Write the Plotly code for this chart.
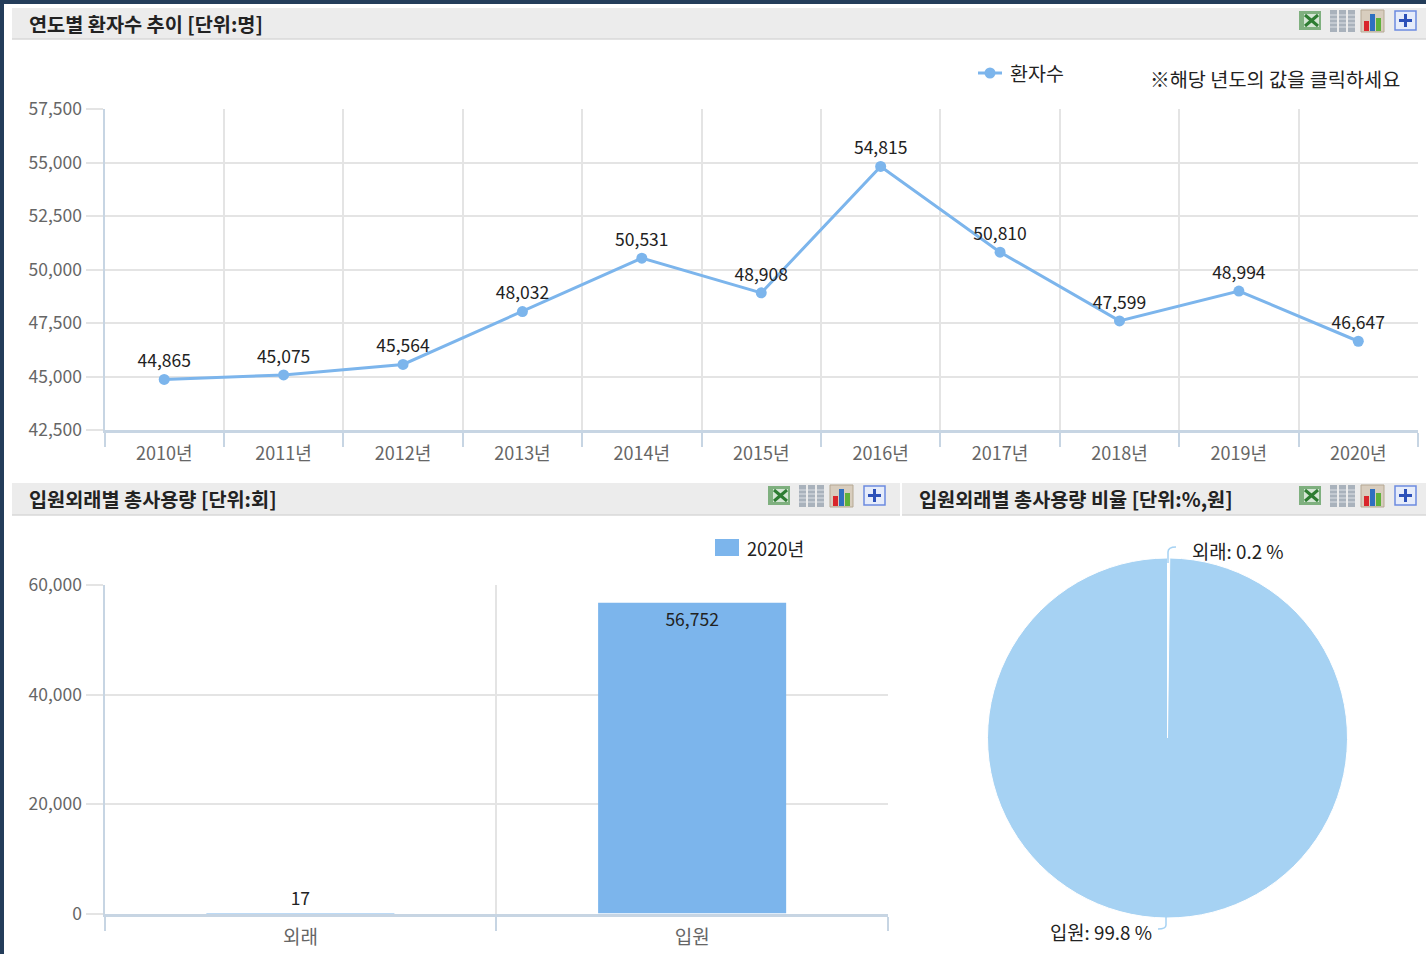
import plotly.graph_objects as go

W, H = 1426, 954
years = ["2010년", "2011년", "2012년", "2013년", "2014년", "2015년", "2016년", "2017년", "2018년", "2019년", "2020년"]
patients = [44865, 45075, 45564, 48032, 50531, 48908, 54815, 50810, 47599, 48994, 46647]
bar_cats = ["외래", "입원"]
bar_vals = [17, 56752]
pie_cats = ["외래", "입원"]
pie_vals = [0.2, 99.8]
line_name = "환자수"
bar_name = "2020년"

FONT = "Noto Sans CJK KR"
GRID = "#E4E4E4"
AXIS = "#C7D5E3"
TICKC = "#666666"
LABELC = "#222222"
BLUE = "#7CB5EC"
PIEC = "#A6D2F3"
DARK = "#243D5A"

def fx(x): return x / W
def fy(y): return 1 - y / H

fig = go.Figure()
fig.add_trace(go.Scatter(
    x=years, y=patients, mode="lines+markers+text", name=line_name,
    text=[f"{v:,}" for v in patients], textposition="top center",
    textfont=dict(size=17.5, color=LABELC, family=FONT),
    line=dict(color=BLUE, width=3), marker=dict(color=BLUE, size=11),
    xaxis="x", yaxis="y", cliponaxis=False, showlegend=False,
))
fig.add_trace(go.Bar(
    x=bar_cats, y=bar_vals, name=bar_name, width=0.48,
    marker=dict(color=BLUE, line=dict(width=0)),
    text=[f"{v:,}" for v in bar_vals], textposition=["outside", "inside"],
    insidetextanchor="end", constraintext="none",
    textfont=dict(size=17.5, color=LABELC, family=FONT),
    xaxis="x2", yaxis="y2", cliponaxis=False, showlegend=False,
))
fig.add_trace(go.Pie(
    labels=pie_cats, values=pie_vals, sort=False, direction="clockwise", rotation=0,
    marker=dict(colors=["#FFFFFF", PIEC], line=dict(color="#FFFFFF", width=1)),
    textinfo="none", showlegend=False, hole=0,
    domain=dict(x=[fx(987), fx(1348)], y=[fy(918), fy(558)]),
))

def xstyle(size, rng):
    return dict(type="category", tickson="boundaries", showgrid=True, gridcolor=GRID, gridwidth=1.5, range=rng,
                automargin=False, showline=True, linecolor=AXIS, linewidth=3, ticks="outside", ticklen=14,
                tickcolor=AXIS, tickwidth=1.5, ticklabelstandoff=5,
                tickfont=dict(size=size, color=TICKC, family=FONT), fixedrange=True)
ystyle = dict(showgrid=True, gridcolor=GRID, gridwidth=1.5, zeroline=False, showline=True, linecolor=AXIS,
              automargin=False, linewidth=2, ticks="outside", ticklen=17, tickcolor=GRID, tickwidth=1.5,
              tickformat=",d", tickfont=dict(size=17.5, color=TICKC, family=FONT), fixedrange=True)

hdr = "#ECECEC"; hdrb = "#D8D8D8"
shapes = [
    dict(type="rect", xref="paper", yref="paper", x0=0, x1=1, y0=fy(4), y1=1, fillcolor=DARK, line_width=0),
    dict(type="rect", xref="paper", yref="paper", x0=0, x1=fx(4), y0=0, y1=1, fillcolor=DARK, line_width=0),
]
for x0, x1, y0, y1 in [(12, 1426, 8, 39), (12, 900, 483, 515), (902, 1426, 483, 515)]:
    shapes.append(dict(type="rect", xref="paper", yref="paper", x0=fx(x0), x1=fx(x1), y0=fy(y1), y1=fy(y0),
                       fillcolor=hdr, line_width=0, layer="below"))
    shapes.append(dict(type="line", xref="paper", yref="paper", x0=fx(x0), x1=fx(x1), y0=fy(y1), y1=fy(y1),
                       line=dict(color=hdrb, width=1.5), layer="below"))

def rect(x0, y0, x1, y1, color, line=None):
    shapes.append(dict(type="rect", xref="paper", yref="paper", x0=fx(x0), x1=fx(x1), y0=fy(y1), y1=fy(y0),
                       fillcolor=color, line=dict(color=line, width=1) if line else dict(width=0)))

def seg(x0, y0, x1, y1, color, width):
    shapes.append(dict(type="line", xref="paper", yref="paper", x0=fx(x0), x1=fx(x1), y0=fy(y0), y1=fy(y1),
                       line=dict(color=color, width=width)))

def icons(ox, oy):
    rect(ox + 3, oy + 2, ox + 25, oy + 21, "#7FB07F")
    rect(ox + 8, oy + 5, ox + 23, oy + 18, "#D5E6D5")
    seg(ox + 9, oy + 6, ox + 22, oy + 17, "#2E7D32", 3)
    seg(ox + 22, oy + 6, ox + 9, oy + 17, "#2E7D32", 3)
    for dx in (34, 43, 52):
        rect(ox + dx, oy + 1, ox + dx + 7, oy + 23, "#A9B2BC")
        for dy in (6, 10, 14, 18):
            seg(ox + dx, oy + dy, ox + dx + 7, oy + dy, "#DDE1E6", 1)
    rect(ox + 65, oy + 1, ox + 88, oy + 23, "#D8CDBE", "#B5A893")
    rect(ox + 68, oy + 12, ox + 73, oy + 22, "#D9262B")
    rect(ox + 74, oy + 5, ox + 79, oy + 22, "#2F6FC0")
    rect(ox + 80, oy + 9, ox + 85, oy + 22, "#5FB13A")
    shapes.append(dict(type="rect", xref="paper", yref="paper", x0=fx(ox + 99), x1=fx(ox + 120), y0=fy(oy + 21), y1=fy(oy + 2),
                       fillcolor="#E6ECFA", line=dict(color="#6C8BE0", width=1.5)))
    rect(ox + 103, oy + 10, ox + 116, oy + 13, "#2C50B8")
    rect(ox + 108, oy + 5, ox + 111, oy + 18, "#2C50B8")

icons(1296, 9)
icons(765, 484)
icons(1296, 484)

# pie leader lines
shapes.append(dict(type="path", xref="paper", yref="paper",
                   path=f"M {fx(1168)} {fy(563)} L {fx(1168)} {fy(552)} Q {fx(1168)} {fy(547)} {fx(1176)} {fy(547)}",
                   line=dict(color=PIEC, width=1.5)))
shapes.append(dict(type="path", xref="paper", yref="paper",
                   path=f"M {fx(1166)} {fy(914)} L {fx(1166)} {fy(925)} Q {fx(1166)} {fy(929)} {fx(1158)} {fy(929)}",
                   line=dict(color=PIEC, width=1.5)))

# legend keys
seg(978, 73, 1002, 73, BLUE, 3)
shapes.append(dict(type="circle", xref="paper", yref="paper", x0=fx(984.5), x1=fx(995.5), y0=fy(78.5), y1=fy(67.5),
                   fillcolor=BLUE, line_width=0))
rect(715, 539, 739, 556, BLUE)

def text(x, y, s, size=17.5, color=LABELC, anchor="left", bold=False):
    return dict(xref="paper", yref="paper", x=fx(x), y=fy(y), text=f"<b>{s}</b>" if bold else s, showarrow=False,
                xanchor=anchor, yanchor="middle", font=dict(size=size, color=color, family=FONT), borderpad=0, borderwidth=0)

annos = [
    text(29, 24, "연도별 환자수 추이 [단위:명]", 19.7, bold=True),
    text(29, 499, "입원외래별 총사용량 [단위:회]", 19.7, bold=True),
    text(919, 499, "입원외래별 총사용량 비율 [단위:%,원]", 19.7, bold=True),
    text(1150, 79, "※해당 년도의 값을 클릭하세요", 19.7),
    text(1192, 550, f"{pie_cats[0]}: {pie_vals[0]} %", 18.8),
    text(1152, 931, f"{pie_cats[1]}: {pie_vals[1]} %", 18.8, anchor="right"),
    text(1010, 73, line_name, 19.5),
    text(747, 548, bar_name, 18.2),
]

fig.update_layout(
    template="none",
    width=W, height=H, margin=dict(l=0, r=0, t=0, b=0), autosize=False, showlegend=False,
    paper_bgcolor="#FFFFFF", plot_bgcolor="#FFFFFF", font=dict(family=FONT),
    xaxis=dict(domain=[fx(104.5), fx(1418)], anchor="y", **xstyle(18, [-0.5, 10.5])),
    yaxis=dict(domain=[fy(430), fy(109)], anchor="x", range=[42500, 57500], dtick=2500, **ystyle),
    xaxis2=dict(domain=[fx(104.5), fx(888)], anchor="y2", **xstyle(19, [-0.5, 1.5])),
    yaxis2=dict(domain=[fy(913.6), fy(585)], anchor="x2", range=[0, 60000], dtick=20000, **ystyle),
    shapes=shapes, annotations=annos, hovermode=False,
)
fig.write_html("out.html", config=dict(displayModeBar=False),
               post_script="document.body.style.margin='0';document.body.style.overflow='hidden';")
